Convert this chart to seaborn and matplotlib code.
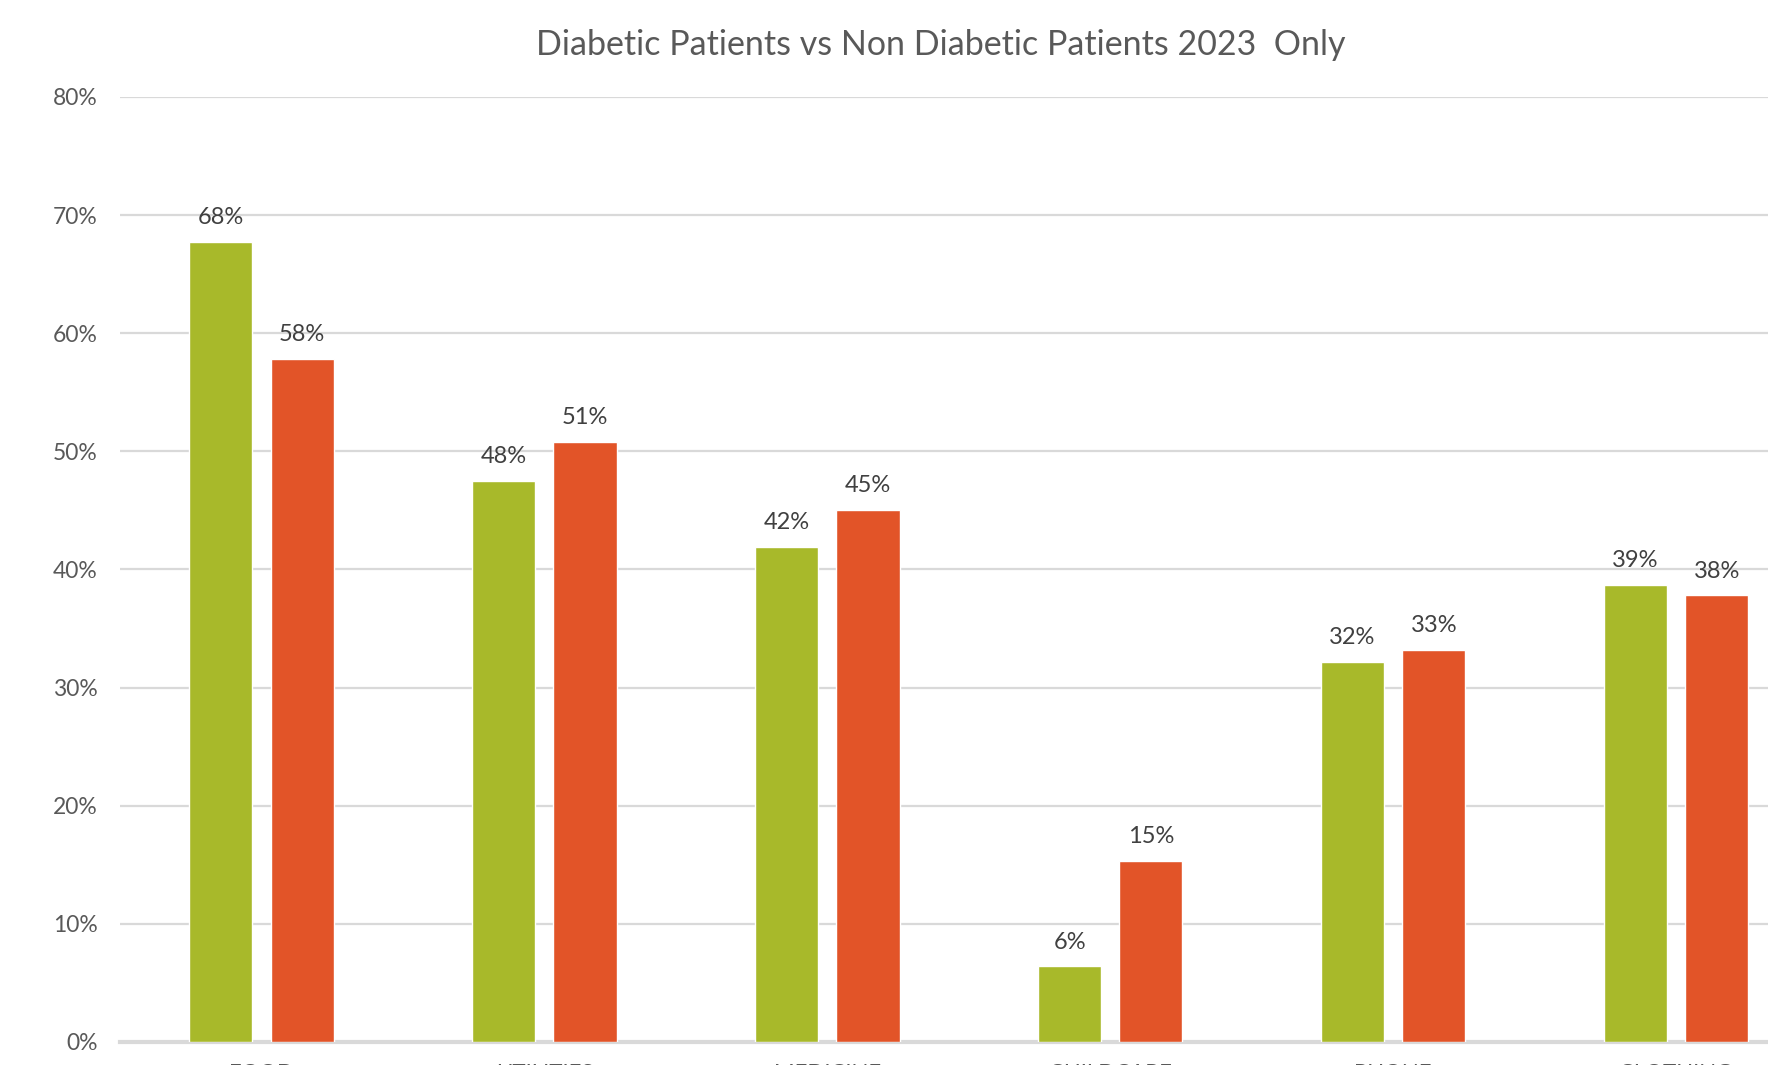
import pandas as pd
import numpy as np
import matplotlib
matplotlib.use('Agg')
import matplotlib.pyplot as plt
import seaborn as sns
from matplotlib.ticker import PercentFormatter

# data
categories = ['FOOD', 'UTILITIES', 'MEDICINE', 'CHILDCARE', 'PHONE', 'CLOTHING']
diabetic = [0.677, 0.475, 0.419, 0.064, 0.322, 0.387]
non_diabetic = [0.578, 0.508, 0.450, 0.153, 0.332, 0.378]
groups = ['Diabetic', 'Non Diabetic']
colors = ['#A8B92A', '#E25428']

df = pd.DataFrame({
    'category': categories * 2,
    'value': diabetic + non_diabetic,
    'group': [groups[0]] * len(categories) + [groups[1]] * len(categories),
})

sns.set_style('white')
plt.rcParams['font.family'] = ['Lato', 'DejaVu Sans']

fig = plt.figure(figsize=(17.68, 10.65), dpi=100)
ax = fig.add_axes([0.0679, 0.0216, 1.028 - 0.0679, 0.909 - 0.0216])

sns.barplot(data=df, x='category', y='value', hue='group', hue_order=groups,
            palette=colors, width=0.574, gap=0.222, saturation=1,
            legend=False, ax=ax, zorder=3)

for cont in ax.containers:
    ax.bar_label(cont, labels=[f"{v:.0%}" for v in cont.datavalues],
                 padding=10, fontsize=17, color='#404040')

ax.set_ylim(0, 0.8)
ax.set_yticks(np.arange(0, 0.81, 0.1))
ax.yaxis.set_major_formatter(PercentFormatter(1.0, decimals=0))
ax.set_xlim(-0.5, len(categories) - 0.5)
ax.grid(axis='y', color='#D9D9D9', linewidth=1.6, zorder=0)
ax.set_axisbelow(True)

for s in ['top', 'right', 'left']:
    ax.spines[s].set_visible(False)
ax.spines['bottom'].set_color('#D9D9D9')
ax.spines['bottom'].set_linewidth(3)

ax.tick_params(axis='y', length=0, pad=16, labelsize=16.5, labelcolor='#595959')
ax.tick_params(axis='x', length=0, pad=15, labelsize=16, labelcolor='#595959')
ax.set_xlabel('')
ax.set_ylabel('')

fig.text(0.532, 0.958, 'Diabetic Patients vs Non Diabetic Patients 2023  Only',
         ha='center', va='center', fontsize=24.5, color='#595959')

fig.savefig('out.png', dpi=100)
